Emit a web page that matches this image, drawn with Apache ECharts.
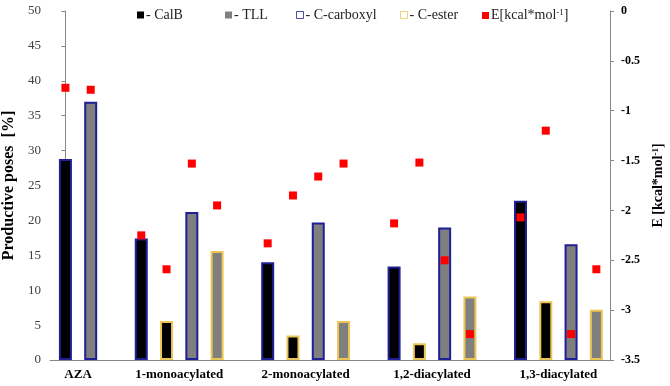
<!DOCTYPE html>
<html>
<head>
<meta charset="utf-8">
<script src="https://cdn.jsdelivr.net/npm/echarts@6/dist/echarts.min.js"></script>
<style>html,body{margin:0;padding:0;background:#fff}#c{width:670px;height:386px}</style>
</head>
<body>
<div id="c"></div>
<script>
// ---- data ----
const groups = ['AZA', '1-monoacylated', '2-monoacylated', '1,2-diacylated', '1,3-diacylated'];
// Productive poses [%]
const calbCarboxyl = [28.8, 17.4, 14.0, 13.4, 22.8];
const calbEster    = [null, 5.6, 3.5, 2.4, 8.4];
const tllCarboxyl  = [37.0, 21.2, 19.7, 19.0, 16.6];
const tllEster     = [null, 15.6, 5.6, 9.1, 7.2];
// E [kcal*mol-1]
const eCalbCarboxyl = [-0.77, -2.25, -2.33, -2.13, -2.07];
const eCalbEster    = [null, -2.59, -1.85, -1.52, -1.20];
const eTllCarboxyl  = [-0.79, -1.53, -1.66, -2.50, -3.24];
const eTllEster     = [null, -1.95, -1.53, -3.24, -2.59];
// axis ticks
const leftAxis = { min: 0, max: 50, interval: 5 };
const rightAxis = { min: -3.5, max: 0, interval: 0.5 };
const legendNames = ['CalB', 'TLL', 'C-carboxyl', 'C-ester', 'E[kcal*mol-1]'];

// ---- styles ----
const BLUE = '#1f1f96', GOLD = '#ecc655', BLACK = '#000000', GRAY = '#7f7f7f', RED = '#ff0000';
const SERIF = '"Liberation Serif", "Times New Roman", serif';

// ---- build slot layout ----
const calbData = [], tllData = [], eData = [], labelPos = [];
let slot = 0;
groups.forEach((g, i) => {
  const bars = [
    { v: calbCarboxyl[i], e: eCalbCarboxyl[i], enz: 'calb', border: BLUE },
    { v: calbEster[i],    e: eCalbEster[i],    enz: 'calb', border: GOLD },
    { v: tllCarboxyl[i],  e: eTllCarboxyl[i],  enz: 'tll',  border: BLUE },
    { v: tllEster[i],     e: eTllEster[i],     enz: 'tll',  border: GOLD }
  ].filter(b => b.v !== null);
  const start = slot;
  bars.forEach(b => {
    const item = { value: [slot, b.v], itemStyle: { borderColor: b.border } };
    (b.enz === 'calb' ? calbData : tllData).push(item);
    if (b.e !== null) eData.push([slot, b.e]);
    slot++;
  });
  labelPos.push({ pos: (start + slot - 1) / 2, name: g });
  slot++; // gap between groups
});

const chart = echarts.init(document.getElementById('c'), null, { renderer: 'canvas' });

const legendLefts = [132, 220, 291, 395, 477];
const legendStyles = [
  { color: BLACK, borderColor: BLACK, borderWidth: 0 },
  { color: GRAY, borderColor: GRAY, borderWidth: 0 },
  { color: '#fff', borderColor: BLUE, borderWidth: 1 },
  { color: '#fff', borderColor: GOLD, borderWidth: 1 },
  { color: RED, borderColor: RED, borderWidth: 0 }
];
const legends = legendNames.map((n, i) => ({
  left: legendLefts[i], top: 3,
  selectedMode: false,
  icon: 'rect', itemWidth: 7, itemHeight: 7,
  data: [{ name: n, itemStyle: legendStyles[i] }],
  formatter: function (name) {
    if (name === 'E[kcal*mol-1]') return 'E[kcal*mol{sup|-1}]';
    return '- ' + name;
  },
  textStyle: {
    fontFamily: SERIF, fontSize: 14, color: '#222', padding: [0, 0, 0, -3],
    rich: { sup: { fontFamily: SERIF, fontSize: 9, color: '#222', verticalAlign: 'top', padding: [0, 0, 6, 0] } }
  }
}));

const option = {
  animation: false,
  backgroundColor: '#fff',
  legend: legends,
  grid: { left: 50, right: 60, top: 11, bottom: 26, containLabel: false, outerBoundsMode: 'none' },
  xAxis: {
    type: 'value', min: -0.61, max: 21.54,
    splitLine: { show: false },
    axisTick: { show: false },
    axisLine: { show: true, onZero: false, lineStyle: { color: '#868686', width: 1 } },
    axisLabel: {
      customValues: labelPos.map(l => l.pos),
      formatter: function (v) {
        const f = labelPos.find(l => Math.abs(l.pos - v) < 1e-6);
        return f ? f.name : '';
      },
      fontFamily: SERIF, fontSize: 13, fontWeight: 'bold', color: '#000', margin: 8
    }
  },
  yAxis: [
    {
      type: 'value', position: 'left', min: leftAxis.min, max: leftAxis.max, interval: leftAxis.interval,
      name: 'Productive poses  [%]', nameLocation: 'middle', nameGap: 30, nameRotate: 90,
      nameTextStyle: { fontFamily: SERIF, fontSize: 16, fontWeight: 'bold', color: '#000' },
      splitLine: { show: false },
      axisLine: { show: true, lineStyle: { color: '#868686' } },
      axisTick: { show: true, length: 4, lineStyle: { color: '#868686' } },
      axisLabel: { fontFamily: SERIF, fontSize: 13, color: '#404040', margin: 9 }
    },
    {
      type: 'value', position: 'right', min: rightAxis.min, max: rightAxis.max, interval: rightAxis.interval,
      name: 'E [kcal*mol{sup|-1}]', nameLocation: 'middle', nameGap: 39, nameRotate: 90,
      nameTextStyle: {
        fontFamily: SERIF, fontSize: 14, fontWeight: 'bold', color: '#000',
        rich: { sup: { fontFamily: SERIF, fontSize: 9, fontWeight: 'bold', color: '#000', verticalAlign: 'top', padding: [0, 0, 5, 0] } }
      },
      splitLine: { show: false },
      axisLine: { show: true, lineStyle: { color: '#868686' } },
      axisTick: { show: true, length: 4, lineStyle: { color: '#868686' } },
      axisLabel: { fontFamily: SERIF, fontSize: 12, fontWeight: 'bold', color: '#000', margin: 11 }
    }
  ],
  series: [
    {
      name: 'CalB', type: 'bar', xAxisIndex: 0, yAxisIndex: 0, barWidth: 13, barGap: '-100%',
      itemStyle: { color: BLACK, borderWidth: 2 },
      data: calbData
    },
    {
      name: 'TLL', type: 'bar', xAxisIndex: 0, yAxisIndex: 0, barWidth: 13, barGap: '-100%',
      itemStyle: { color: GRAY, borderWidth: 2 },
      data: tllData
    },
    { name: 'C-carboxyl', type: 'scatter', symbol: 'rect', yAxisIndex: 0, itemStyle: { color: '#fff', borderColor: BLUE, borderWidth: 1 }, data: [] },
    { name: 'C-ester', type: 'scatter', symbol: 'rect', yAxisIndex: 0, itemStyle: { color: '#fff', borderColor: GOLD, borderWidth: 1 }, data: [] },
    {
      name: 'E[kcal*mol-1]', type: 'scatter', yAxisIndex: 1, symbol: 'rect', symbolSize: 8,
      itemStyle: { color: RED, opacity: 1 }, z: 5,
      data: eData
    }
  ]
};
chart.setOption(option);
</script>
</body>
</html>
